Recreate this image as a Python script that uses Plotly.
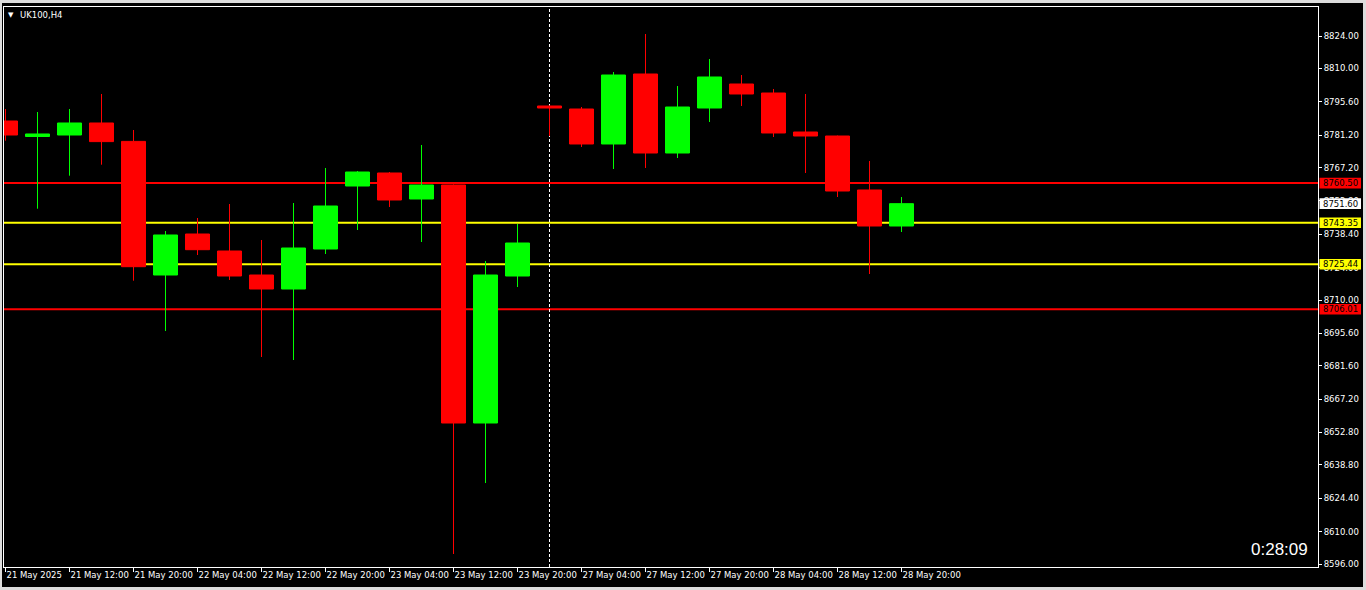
import plotly.graph_objects as go

# ---------------- data ----------------
candle_times = [
    "21 May 04:00", "21 May 08:00", "21 May 12:00", "21 May 16:00", "21 May 20:00",
    "22 May 00:00", "22 May 04:00", "22 May 08:00", "22 May 12:00", "22 May 16:00", "22 May 20:00",
    "23 May 00:00", "23 May 04:00", "23 May 08:00", "23 May 12:00", "23 May 16:00", "23 May 20:00",
    "27 May 00:00", "27 May 04:00", "27 May 08:00", "27 May 12:00", "27 May 16:00", "27 May 20:00",
    "28 May 00:00", "28 May 04:00", "28 May 08:00", "28 May 12:00", "28 May 16:00", "28 May 20:00",
]
opens = [8787.30, 8780.60, 8781.25, 8786.44, 8778.50, 8720.80, 8738.51, 8731.17, 8720.80, 8714.76,
         8732.03, 8759.23, 8764.85, 8753.62, 8759.66, 8656.90, 8720.37, 8793.78, 8792.48, 8777.37,
         8807.59, 8773.48, 8792.91, 8803.27, 8799.39, 8782.55, 8780.82, 8757.51, 8741.96]
highs = [8792.48, 8791.18, 8792.48, 8798.96, 8783.41, 8739.80, 8745.42, 8751.46, 8735.92, 8751.89,
         8767.01, 8765.71, 8765.28, 8776.94, 8759.90, 8726.85, 8742.83, 8793.90, 8793.34, 8808.46,
         8824.86, 8802.41, 8814.07, 8807.16, 8801.12, 8798.96, 8781.00, 8770.03, 8754.48]
lows = [8778.79, 8749.43, 8763.68, 8768.43, 8718.34, 8696.63, 8729.44, 8718.65, 8685.40, 8684.10,
        8729.87, 8740.23, 8750.17, 8735.05, 8600.34, 8630.99, 8715.62, 8780.82, 8776.07, 8766.57,
        8767.01, 8771.32, 8786.87, 8793.78, 8780.39, 8764.85, 8754.48, 8721.24, 8739.37]
closes = [8781.25, 8781.70, 8786.44, 8778.40, 8724.39, 8738.08, 8731.73, 8720.37, 8714.76, 8732.46,
          8750.60, 8765.28, 8753.19, 8759.66, 8656.90, 8720.80, 8734.62, 8792.91, 8777.37, 8807.16,
          8773.48, 8793.34, 8806.30, 8798.96, 8782.12, 8780.82, 8757.07, 8741.96, 8751.60]

x_tick_index = list(range(0, 29, 2))
x_tick_labels = ["21 May 2025", "21 May 12:00", "21 May 20:00", "22 May 04:00", "22 May 12:00",
                 "22 May 20:00", "23 May 04:00", "23 May 12:00", "23 May 20:00", "27 May 04:00",
                 "27 May 12:00", "27 May 20:00", "28 May 04:00", "28 May 12:00", "28 May 20:00"]
y_tick_values = [8824.00, 8810.00, 8795.60, 8781.20, 8767.20, 8752.80, 8738.40, 8724.00, 8710.00,
                 8695.60, 8681.60, 8667.20, 8652.80, 8638.80, 8624.40, 8610.00, 8596.00]

level_prices = [8760.50, 8743.35, 8725.44, 8706.01]
level_colors = ["#FF0000", "#FFFF00", "#FFFF00", "#FF0000"]
current_price = 8751.60
separator_index = 17
symbol_label = "UK100,H4"
timer_text = "0:28:09"

# ---------------- layout geometry ----------------
W, H = 1366, 590
ML, MR, MT, MB = 4, 48, 7, 23
PW, PH = W - ML - MR, H - MT - MB
x_range = [-0.047, -0.047 + PW / 32.0]
y_range = [8594.73, 8836.52]
FONT = "DejaVu Sans, Verdana, sans-serif"
FS = 8.5


def px_x(px):
    return (px - ML) / PW


def px_y(py):
    return (H - MB - py) / PH


x_vals = list(range(len(candle_times)))

fig = go.Figure()
fig.add_trace(go.Candlestick(
    x=x_vals, open=opens, high=highs, low=lows, close=closes,
    increasing=dict(line=dict(color="#00FF00", width=1), fillcolor="#00FF00"),
    decreasing=dict(line=dict(color="#FF0000", width=1), fillcolor="#FF0000"),
    hoverinfo="skip", showlegend=False,
    text=candle_times,
))

shapes = []
# outer grey frame: paper is grey, black panel on top
shapes.append(dict(type="rect", xref="paper", yref="paper",
                   x0=px_x(2), x1=px_x(1363), y0=px_y(587), y1=px_y(3),
                   fillcolor="#000000", line=dict(width=0), layer="below"))
for p, c in zip(level_prices, level_colors):
    shapes.append(dict(type="line", xref="paper", yref="y", x0=0, x1=1, y0=p, y1=p,
                       line=dict(color=c, width=2), layer="below"))
shapes.append(dict(type="line", xref="x", yref="paper", x0=separator_index, x1=separator_index,
                   y0=0, y1=1, line=dict(color="#FFFFFF", width=1, dash="3px,2px"), layer="below"))

annotations = []
label_items = [(p, c) for p, c in zip(level_prices, level_colors)] + [(current_price, "#FFFFFF")]
for p, c in label_items:
    shapes.append(dict(type="rect", xref="paper", yref="y",
                       x0=px_x(1319.5), x1=px_x(1361), y0=p - 2.3, y1=p + 2.3,
                       fillcolor=c, line=dict(width=0), layer="above"))
    annotations.append(dict(text=f"{p:.2f}", xref="paper", yref="y", x=px_x(1321), y=p,
                            xanchor="left", yanchor="middle", showarrow=False,
                            font=dict(family=FONT, size=FS, color="#000000")))

annotations.append(dict(text="▼", xref="paper", yref="paper", x=px_x(6), y=px_y(15),
                        xanchor="left", yanchor="middle", showarrow=False,
                        font=dict(family="DejaVu Sans", size=7, color="#FFFFFF")))
annotations.append(dict(text=symbol_label, xref="paper", yref="paper", x=px_x(18), y=px_y(15),
                        xanchor="left", yanchor="middle", showarrow=False,
                        font=dict(family=FONT, size=FS, color="#FFFFFF")))
annotations.append(dict(text=timer_text, xref="paper", yref="paper", x=px_x(1310), y=px_y(549),
                        xanchor="right", yanchor="middle", showarrow=False,
                        font=dict(family="Liberation Sans, Arial, sans-serif", size=17,
                                  color="#FFFFFF")))

fig.update_layout(
    width=W, height=H, autosize=False,
    margin=dict(l=ML, r=MR, t=MT, b=MB, pad=0, autoexpand=False),
    paper_bgcolor="#DCDCDC", plot_bgcolor="#000000",
    boxgap=0.25, boxgroupgap=0,
    showlegend=False,
    shapes=shapes, annotations=annotations,
    xaxis=dict(range=x_range, tickmode="array", tickvals=x_tick_index, ticktext=x_tick_labels,
               ticks="outside", ticklen=4, tickcolor="#FFFFFF", tickwidth=1, tickangle=0,
               ticklabelposition="outside right", automargin=False,
               tickfont=dict(family=FONT, size=FS, color="#FFFFFF"),
               showgrid=False, zeroline=False, showline=True, linecolor="#FFFFFF", linewidth=1,
               mirror=True, rangeslider=dict(visible=False), fixedrange=True),
    yaxis=dict(range=y_range, side="right", tickmode="array", tickvals=y_tick_values,
               ticktext=[f"{v:.2f}" for v in y_tick_values], automargin=False,
               ticks="outside", ticklen=3, tickcolor="#FFFFFF", tickwidth=1,
               tickfont=dict(family=FONT, size=FS, color="#FFFFFF"),
               showgrid=False, zeroline=False, showline=True, linecolor="#FFFFFF", linewidth=1,
               mirror=True, fixedrange=True),
)

fig.write_html("out.html", config={"displayModeBar": False},
               post_script="document.body.style.margin='0';document.body.style.overflow='hidden';")
